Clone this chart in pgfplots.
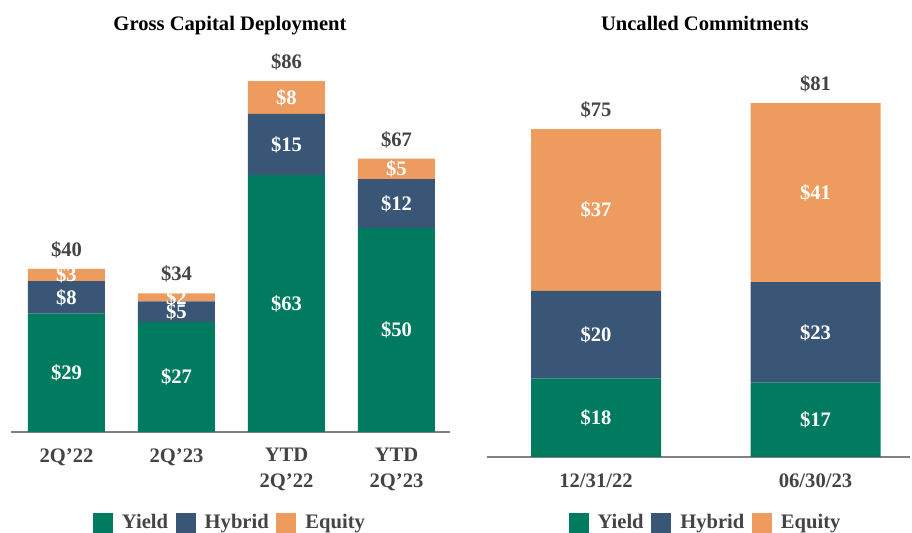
\documentclass[border=0pt]{standalone}
\usepackage{fontspec}
\setmainfont{Liberation Serif}
\usepackage{pgfplots}
\pgfplotsset{compat=1.18}
\usepackage{pgfplotstable}

\definecolor{yieldc}{HTML}{007B5F}
\definecolor{hybridc}{HTML}{3A5676}
\definecolor{equityc}{HTML}{EE9B60}
\definecolor{txt}{HTML}{444444}
\definecolor{axgray}{HTML}{808080}

\newcommand{\lbl}{\bfseries\fontsize{10.3}{13}\selectfont}

% one row per bar
\pgfplotstableread{
x yield hybrid equity total
0 29 8 3 40
1 27 5 2 34
2 63 15 8 86
3 50 12 5 67
}\deploy
\pgfplotstableread{
x yield hybrid equity total
0 18 20 37 75
1 17 23 41 81
}\uncalled

\pgfplotsset{
  sq/.style={legend image code/.code={\fill[##1,draw=none] (0pt,-5pt) rectangle (10pt,5pt);}},
  seg/.style={draw=none, fill=#1, sq, point meta=explicit symbolic,
    nodes near coords={\textdollar\pgfplotspointmeta},
    every node near coord/.style={anchor=center, font=\lbl, text=white}},
  panel/.style={
    ybar stacked,
    axis x line*=bottom, axis y line=none,
    x axis line style={axgray, line width=1pt},
    ymin=0, ymax=91, ytick=\empty,
    xtick=data, major tick length=0pt,
    xticklabel style={align=center, font=\lbl, text=txt, anchor=north, inner sep=0pt, yshift=-8pt},
    title style={font=\lbl, text=black, anchor=center},
    legend style={draw=none, fill=none, legend columns=3, font=\lbl, text=txt, anchor=center,
      /tikz/every even column/.append style={column sep=1.8pt},
      /tikz/every odd column/.append style={column sep=2.5pt}},
    clip=false,
  },
  totals/.style={hide axis, clip=false, ymin=0, ymax=91},
  totplot/.style={only marks, mark=none, point meta=explicit symbolic,
    nodes near coords={\textdollar\pgfplotspointmeta},
    every node near coord/.style={anchor=center, font=\lbl, text=txt, yshift=9.5pt}},
}

\begin{document}
\begin{tikzpicture}
\useasboundingbox (0,0) rectangle (456pt,-266.5pt);

\begin{axis}[panel, at={(5.5pt,-216pt)}, anchor=south west,
  x=55pt, y=2.04pt, xmin=-0.5045, xmax=3.486, bar width=38.5pt,
  xticklabels={2Q’22,2Q’23,{YTD\\2Q’22},{YTD\\2Q’23}},
  title={Gross Capital Deployment}, title style={at={(0.499,1)}, yshift=11.35pt},
  legend style={at={(0.501,-0.245)}}]
\addplot[seg=yieldc] table[x=x, y=yield, meta=yield]{\deploy};
\addplot[seg=hybridc] table[x=x, y=hybrid, meta=hybrid]{\deploy};
\addplot[seg=equityc] table[x=x, y=equity, meta=equity]{\deploy};
\legend{Yield,Hybrid,Equity}
\end{axis}
\begin{axis}[totals, at={(5.5pt,-216pt)}, anchor=south west,
  x=55pt, y=2.04pt, xmin=-0.5045, xmax=3.486]
\addplot[totplot] table[x=x, y=total, meta=total]{\deploy};
\end{axis}

\begin{axis}[panel, at={(243.5pt,-228.5pt)}, anchor=south west,
  x=109.75pt, y=2.185pt, xmin=-0.4966, xmax=1.4305, bar width=65pt,
  xticklabels={12/31/22,06/30/23},
  title={Uncalled Commitments}, title style={at={(0.515,1)}, yshift=12.15pt},
  legend style={at={(0.519,-0.166)}}]
\addplot[seg=yieldc] table[x=x, y=yield, meta=yield]{\uncalled};
\addplot[seg=hybridc] table[x=x, y=hybrid, meta=hybrid]{\uncalled};
\addplot[seg=equityc] table[x=x, y=equity, meta=equity]{\uncalled};
\legend{Yield,Hybrid,Equity}
\end{axis}
\begin{axis}[totals, at={(243.5pt,-228.5pt)}, anchor=south west,
  x=109.75pt, y=2.185pt, xmin=-0.4966, xmax=1.4305]
\addplot[totplot] table[x=x, y=total, meta=total]{\uncalled};
\end{axis}
\end{tikzpicture}
\end{document}
